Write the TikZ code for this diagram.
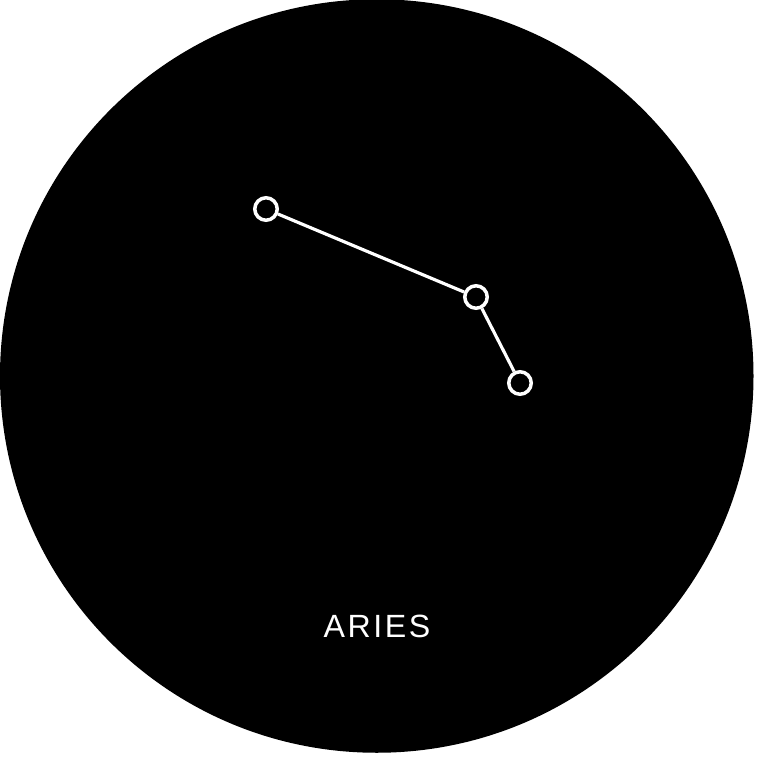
\documentclass[tikz,border=0pt]{standalone}
\usepackage{fontspec}
\setmainfont{Liberation Sans}
\usetikzlibrary{positioning}

\begin{document}
\begin{tikzpicture}[x=0.02cm,y=-0.02cm]
    \pgfmathsetmacro{\size}{757}
    \pgfmathsetmacro{\radius}{376.75}
    \tikzset{star/.style={circle,draw=white,fill=black,line width=2pt,minimum size=0.45cm,inner sep=0pt},
             link/.style={draw=white,line width=1.8pt}}
    \useasboundingbox[fill=white] (0,0) rectangle (\size,\size);
    \fill[black] (376.75,376) circle[radius=\radius];
    \node[star] (hamal) at (266,209) {};
    \node[star] (sheratan) at (476,297) {};
    \node[star] (mesarthim) at (520,383) {};
    \path[link] (hamal) -- (sheratan);
    \path[link] (sheratan) -- (mesarthim);
    \node[text=white,font=\fontsize{18.3}{20}\selectfont\addfontfeature{LetterSpace=8},anchor=base] (name) at (377,637) {ARIES};
\end{tikzpicture}
\end{document}
